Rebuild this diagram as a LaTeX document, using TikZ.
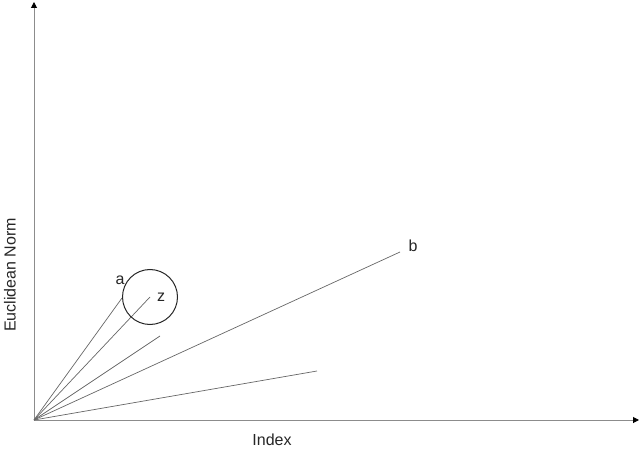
\documentclass[tikz,border=0pt]{standalone}
\usepackage{fontspec}
\setmainfont{Liberation Sans}
\usetikzlibrary{arrows.meta}
\begin{document}
\begin{tikzpicture}[x=1pt,y=-1pt,
  axis/.style={draw=black!45,line width=1pt,-{Triangle[length=6pt,width=6pt,fill=black,color=black]}},
  ray/.style={draw=black!60,line width=0.7pt},
  lbl/.style={font=\fontsize{16}{18}\selectfont,inner sep=0pt,text=black!85}]
\useasboundingbox (0,0) rectangle (640,449);
\coordinate (o) at (34,420);
\coordinate (ytop) at (34,2);
\coordinate (xend) at (639,420);
\draw[axis] (o) -- (ytop);
\draw[axis] (o) -- (xend);
\coordinate (pa) at (122,298);
\coordinate (pz) at (150,297);
\coordinate (pc) at (160,336);
\coordinate (pb) at (400,252);
\coordinate (pd) at (317,371);
\draw[ray] (o) -- (pa);
\draw[ray] (o) -- (pz);
\draw[ray] (o) -- (pc);
\draw[ray] (o) -- (pb);
\draw[ray] (o) -- (pd);
\node[draw=black!85,line width=1pt,circle,minimum size=55pt,inner sep=0pt] (circ) at (150,297) {};
\node[lbl] (la) at (120,280) {a};
\node[lbl] (lz) at (161,297) {z};
\node[lbl] (lb) at (413,246) {b};
\node[lbl] (lx) at (272,440) {Index};
\node[lbl,rotate=90] (ly) at (10,275) {Euclidean Norm};
\end{tikzpicture}
\end{document}
